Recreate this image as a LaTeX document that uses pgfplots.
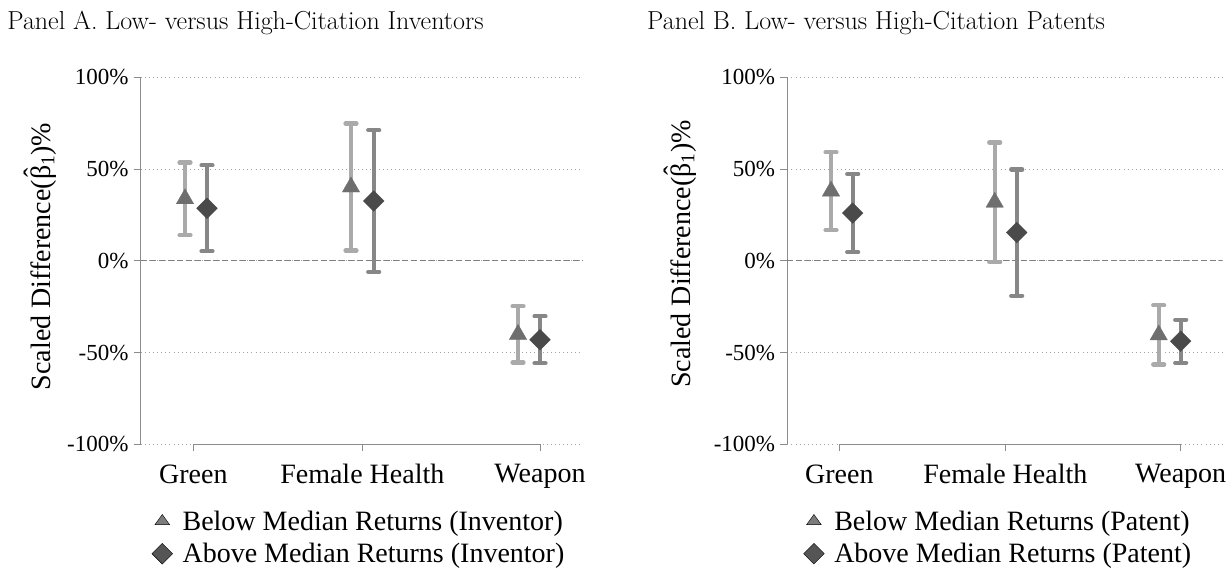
\documentclass[border=0pt]{standalone}
\usepackage{fontspec}
\usepackage{pgfplots}
\usepackage{pgfplotstable}
\pgfplotsset{compat=1.18}
\newfontfamily\cam{Liberation Serif}

\definecolor{triCI}{HTML}{AAAAAA}
\definecolor{triMk}{HTML}{6E6E6E}
\definecolor{diaCI}{HTML}{878787}
\definecolor{diaMk}{HTML}{4A4A4A}
\definecolor{spine}{HTML}{8C8C8C}
\definecolor{zeroln}{HTML}{7F7F7F}
\definecolor{legTri}{HTML}{7C7C7C}
\definecolor{legDia}{HTML}{555555}

% Panel A: low- vs high-citation inventors (x in plot units, estimate, +CI, -CI)
\pgfplotstableread{
x     y     ep    em
44.3  33.8  19.8  19.9
210.3 40.2  34.6  34.6
377.3 -40.1 15.3  15.3
}\triA
\pgfplotstableread{
x     y     ep    em
66.3  28.6  23.4  23.4
233.0 32.6  38.6  38.6
399.3 -43.0 12.7  12.8
}\diaA
% Panel B: low- vs high-citation patents
\pgfplotstableread{
x     y     ep    em
43.7  38.0  21.1  21.2
207.4 31.9  32.6  32.6
371.4 -40.4 16.1  16.1
}\triB
\pgfplotstableread{
x     y     ep    em
65.4  26.0  21.3  21.3
229.4 15.4  34.4  34.4
393.4 -43.8 11.7  11.8
}\diaB

\newcommand{\betahat}{\ooalign{β\cr\hidewidth\raisebox{0.24em}{ˆ}\hidewidth\cr}}

\pgfplotsset{
  coefpanel/.style={
    scale only axis, height=367pt,
    ymin=-100, ymax=100, xmin=0,
    axis lines=left,
    axis line style={spine, line width=1pt, -},
    x axis line style={draw=none},
    tick align=outside,
    major tick length=7pt,
    tick style={spine, line width=1pt},
    ytick={-100,-50,0,50,100},
    yticklabels={-100\%,-50\%,0\%,50\%,100\%},
    xticklabels={Green, Female Health, Weapon},
    yticklabel style={font=\cam\fontsize{23}{26}\selectfont, inner sep=0pt, xshift=-5pt},
    xticklabel style={font=\cam\fontsize{28}{32}\selectfont, inner sep=0pt, yshift=-13pt},
    ylabel style={font=\cam\fontsize{28}{32}\selectfont, anchor=base, inner sep=0pt},
    title style={font=\fontsize{26}{30}\selectfont, anchor=base west, inner sep=0pt},
    ymajorgrids,
    grid style={draw=spine!80, line width=0.9pt, dash pattern=on 0.9pt off 3.2pt},
    clip=false,
    legend style={draw=none, fill=none, anchor=north west, inner sep=0pt,
      font=\cam\fontsize{28}{32}\selectfont, row sep=9.5pt,
      nodes={inner sep=1pt},
      /tikz/every odd column/.append style={column sep=9pt}},
    legend cell align=left,
  },
  citri/.style={forget plot, only marks, mark=triangle*, mark size=10pt, color=triMk,
    mark options={fill=triMk, draw=none},
    error bars/.cd, y dir=both, y explicit,
    error bar style={line width=4.2pt, triCI},
    error mark=-, error mark options={rotate=90, mark size=5.5pt, line width=4.2pt, line cap=round, triCI},
    /pgfplots/.cd},
  cidia/.style={forget plot, only marks, mark=square*, mark size=7.3pt, color=diaMk,
    mark options={fill=diaMk, draw=none, rotate=45},
    error bars/.cd, y dir=both, y explicit,
    error bar style={line width=4.2pt, diaCI},
    error mark=-, error mark options={rotate=90, mark size=5.5pt, line width=4.2pt, line cap=round, diaCI},
    /pgfplots/.cd},
  legtri/.style={only marks, mark=triangle*, mark size=8.5pt, mark options={fill=legTri, draw=none, yscale=0.8}},
  legdia/.style={only marks, mark=square*, mark size=7.3pt, mark options={fill=legDia, draw=none, rotate=45}},
}

\begin{document}
\begin{tikzpicture}[x=1pt,y=1pt]
\useasboundingbox (0,0) rectangle (1231,569);

% ---- Panel A ----
\begin{axis}[coefpanel,
  at={(140.7pt,124.7pt)}, anchor=south west,
  width=442.3pt, xmax=442.3,
  xtick={52.6,221.6,399.3},
  ylabel={Scaled Difference(\betahat\textsubscript{1})\%},
  ylabel style={at={(axis description cs:-0.205,0.512)}},
  title={Panel A. Low- versus High-Citation Inventors},
  title style={at={(axis description cs:-0.302,1.114)}},
  legend style={at={(axis description cs:0.025,-0.178)}},
]
\addplot[zeroln, line width=1pt, dash pattern=on 6pt off 3pt, forget plot] coordinates {(0,0) (442.3,0)};
\draw[spine, line width=1pt] (axis cs:52.6,-100) -- (axis cs:399.3,-100);
\addplot+[citri] table[x=x, y=y, y error plus=ep, y error minus=em] {\triA};
\addplot+[cidia] table[x=x, y=y, y error plus=ep, y error minus=em] {\diaA};
\addlegendimage{legtri}
\addlegendentry{Below Median Returns (Inventor)}
\addlegendimage{legdia}
\addlegendentry{Above Median Returns (Inventor)}
\end{axis}

% ---- Panel B ----
\begin{axis}[coefpanel,
  at={(787.3pt,124.7pt)}, anchor=south west,
  width=435pt, xmax=435,
  xtick={52,218,393.4},
  ylabel={Scaled Difference(\betahat\textsubscript{1})\%},
  ylabel style={at={(axis description cs:-0.2237,0.5185)}},
  title={Panel B. Low- versus High-Citation Patents},
  title style={at={(axis description cs:-0.3225,1.114)}},
  legend style={at={(axis description cs:0.037,-0.178)}},
]
\addplot[zeroln, line width=1pt, dash pattern=on 6pt off 3pt, forget plot] coordinates {(0,0) (435,0)};
\draw[spine, line width=1pt] (axis cs:52,-100) -- (axis cs:393.4,-100);
\addplot+[citri] table[x=x, y=y, y error plus=ep, y error minus=em] {\triB};
\addplot+[cidia] table[x=x, y=y, y error plus=ep, y error minus=em] {\diaB};
\addlegendimage{legtri}
\addlegendentry{Below Median Returns (Patent)}
\addlegendimage{legdia}
\addlegendentry{Above Median Returns (Patent)}
\end{axis}
\end{tikzpicture}
\end{document}
